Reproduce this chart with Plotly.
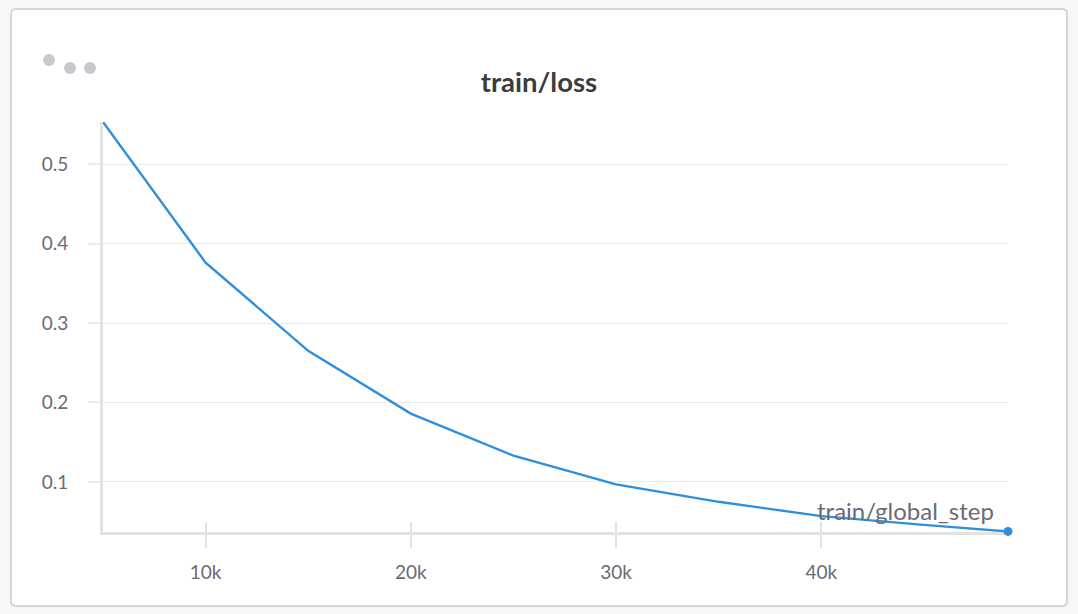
import plotly.graph_objects as go

# train/loss vs train/global_step
steps = [5000, 10000, 15000, 20000, 25000, 30000, 35000, 40000, 45000, 49100]
loss = [0.553, 0.376, 0.265, 0.186, 0.133, 0.097, 0.075, 0.057, 0.046, 0.0377]
x_tickvals = [10000, 20000, 30000, 40000]
x_ticktext = ['10k', '20k', '30k', '40k']
y_tickvals = [0.1, 0.2, 0.3, 0.4, 0.5]

W, H = 1078, 614
ml, mr, mt, mb = 103, 70, 122, 82
pw, ph = W - ml - mr, H - mt - mb


def px_x(p):
    # page pixel -> paper coordinate
    return (p - ml) / pw


def px_y(p):
    return (H - mb - p) / ph


line_color = '#2f8fdd'
grid_color = '#ebebeb'
label_color = '#6b6b76'
font = 'Lato, Noto Sans, sans-serif'

fig = go.Figure()
fig.add_trace(go.Scatter(x=steps, y=loss, mode='lines', line=dict(color=line_color, width=2.4),
                         showlegend=False, cliponaxis=False))
fig.add_trace(go.Scatter(x=steps[-1:], y=loss[-1:], mode='markers', marker=dict(color=line_color, size=9),
                         showlegend=False, cliponaxis=False))

xrange = [steps[0], steps[-1]]
yrange = [0.037, loss[0]]

fig.update_layout(
    width=W, height=H,
    margin=dict(l=ml, r=mr, t=mt, b=mb),
    paper_bgcolor='#f7f7f7',
    plot_bgcolor='rgba(0,0,0,0)',
    font=dict(family=font, color=label_color, size=19),
    title=dict(text='<b>train/loss</b>', x=0.5, xanchor='center', y=1 - 82 / H, yanchor='middle',
               font=dict(size=27.5, color='#3b3b40', family=font)),
    xaxis=dict(range=xrange, tickvals=x_tickvals, ticktext=x_ticktext, showgrid=False, zeroline=False,
               showline=True, linecolor='#e2e2e2', linewidth=3, ticks='outside', ticklen=13,
               tickcolor='#e2e2e2', tickwidth=2, ticklabelstandoff=8, layer='below traces',
               tickfont=dict(size=19, color=label_color)),
    xaxis2=dict(range=xrange, overlaying='x', matches='x', tickvals=x_tickvals, showticklabels=False,
                showgrid=False, zeroline=False, ticks='inside', ticklen=10, tickcolor='#e2e2e2', tickwidth=2,
                side='bottom', anchor='y', layer='below traces'),
    yaxis=dict(range=yrange, tickvals=y_tickvals, showgrid=True, gridcolor=grid_color, gridwidth=1,
               zeroline=False, showline=True, linecolor='#e2e2e2', linewidth=3, ticks='outside', ticklen=12,
               tickcolor=grid_color, tickwidth=2, ticklabelstandoff=16, layer='below traces',
               tickfont=dict(size=19, color=label_color)),
)

# invisible trace so the overlay axis (inner halves of x ticks) gets drawn
fig.add_trace(go.Scatter(x=steps[:1], y=loss[:1], xaxis='x2', mode='markers', marker=dict(opacity=0),
                         showlegend=False, hoverinfo='skip'))

# white card with rounded corners behind everything
x0, x1 = px_x(11), px_x(1067)
y0, y1 = px_y(606), px_y(9)
rx, ry = 5 / pw, 5 / ph
card = (f'M {x0 + rx},{y1} L {x1 - rx},{y1} Q {x1},{y1} {x1},{y1 - ry} '
        f'L {x1},{y0 + ry} Q {x1},{y0} {x1 - rx},{y0} L {x0 + rx},{y0} '
        f'Q {x0},{y0} {x0},{y0 + ry} L {x0},{y1 - ry} Q {x0},{y1} {x0 + rx},{y1} Z')
fig.add_shape(type='path', path=card, xref='paper', yref='paper', layer='below',
              fillcolor='white', line=dict(color='#d6d6d6', width=2))

# the three menu dots in the top-left corner
for cx, cy in [(49, 60), (70, 68), (90, 68)]:
    fig.add_shape(type='circle', xref='paper', yref='paper', xsizemode='pixel', ysizemode='pixel',
                  xanchor=px_x(cx), yanchor=px_y(cy), x0=-6, x1=6, y0=-6, y1=6,
                  fillcolor='#c8c8ce', line=dict(width=0))

fig.add_annotation(text='train/global_step', xref='paper', yref='paper', x=1, y=0, xanchor='right',
                   yanchor='bottom', xshift=-12, yshift=5, showarrow=False,
                   font=dict(size=24, color=label_color, family=font))

# drop the browser's default body margin so the figure sits at the page corner
fig.write_html('out.html', config={'displayModeBar': False},
               post_script="document.body.style.margin='0';")
